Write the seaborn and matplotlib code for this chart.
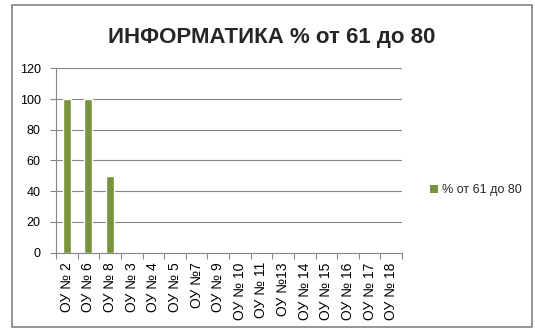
import matplotlib
matplotlib.use("Agg")
import matplotlib.pyplot as plt
from matplotlib.patches import Rectangle, Patch
import seaborn as sns
import pandas as pd

schools = ["ОУ № 2", "ОУ № 6", "ОУ № 8", "ОУ № 3", "ОУ № 4", "ОУ № 5", "ОУ №7",
           "ОУ № 9", "ОУ № 10", "ОУ № 11", "ОУ №13", "ОУ № 14", "ОУ № 15",
           "ОУ № 16", "ОУ № 17", "ОУ № 18"]
share_61_80 = [100, 100, 50, 0, 0, 0, 0, 0, 0, 0, 0, 0, 0, 0, 0, 0]
series_name = "% от 61 до 80"
title = "ИНФОРМАТИКА % от 61 до 80"
y_ticks = [0, 20, 40, 60, 80, 100, 120]

df = pd.DataFrame({"school": schools, "value": share_61_80})

sns.set_theme(style="white")
plt.rcParams["font.family"] = ["Liberation Sans", "DejaVu Sans"]

bar_color = "#77933C"
line_color = "#868686"

fig = plt.figure(figsize=(5.35, 3.30), dpi=100)
ax = fig.add_axes([56 / 535, 1 - 252.5 / 330, (402 - 56) / 535, (252.5 - 68.3) / 330])

sns.barplot(data=df, x="school", y="value", color=bar_color, width=0.37,
            saturation=1, ax=ax, order=schools)

ax.set_xlim(-0.5, len(schools) - 0.5)
ax.set_ylim(0, 120)
ax.set_yticks(y_ticks)
ax.set_xlabel("")
ax.set_ylabel("")

# horizontal gridlines
for v in y_ticks[1:]:
    ax.axhline(v, color=line_color, lw=0.8, zorder=0)

for side in ["top", "right"]:
    ax.spines[side].set_visible(False)
for side in ["left", "bottom"]:
    ax.spines[side].set_color(line_color)
    ax.spines[side].set_linewidth(0.8)

# category ticks at boundaries
ax.set_xticks([i - 0.5 for i in range(len(schools) + 1)], minor=True)
ax.tick_params(axis="x", which="minor", length=4, color=line_color, width=0.8, bottom=True)
ax.tick_params(axis="x", which="major", length=0, pad=7, labelsize=10, rotation=90,
               colors="black")
ax.tick_params(axis="y", which="major", length=4, color=line_color, width=0.8, left=True,
               labelsize=9, pad=7, labelcolor="black")

fig.text(272 / 535, 1 - 37 / 330, title, ha="center", va="center",
         fontsize=16, fontweight="bold")

handle = Patch(facecolor=bar_color, edgecolor="none")
fig.legend([handle], [series_name], loc="center left",
           bbox_to_anchor=(419 / 535, 1 - 190 / 330), frameon=False, fontsize=9,
           handlelength=0.6, handleheight=0.6, handletextpad=0.3)

fig.patches.append(Rectangle((11.5 / 535, 3 / 330), (532 - 11.5) / 535, (325 - 3) / 330,
                             transform=fig.transFigure, fill=False,
                             edgecolor="#8c8c8c", lw=1.3))

fig.savefig("out.png", dpi=100, facecolor="white")
